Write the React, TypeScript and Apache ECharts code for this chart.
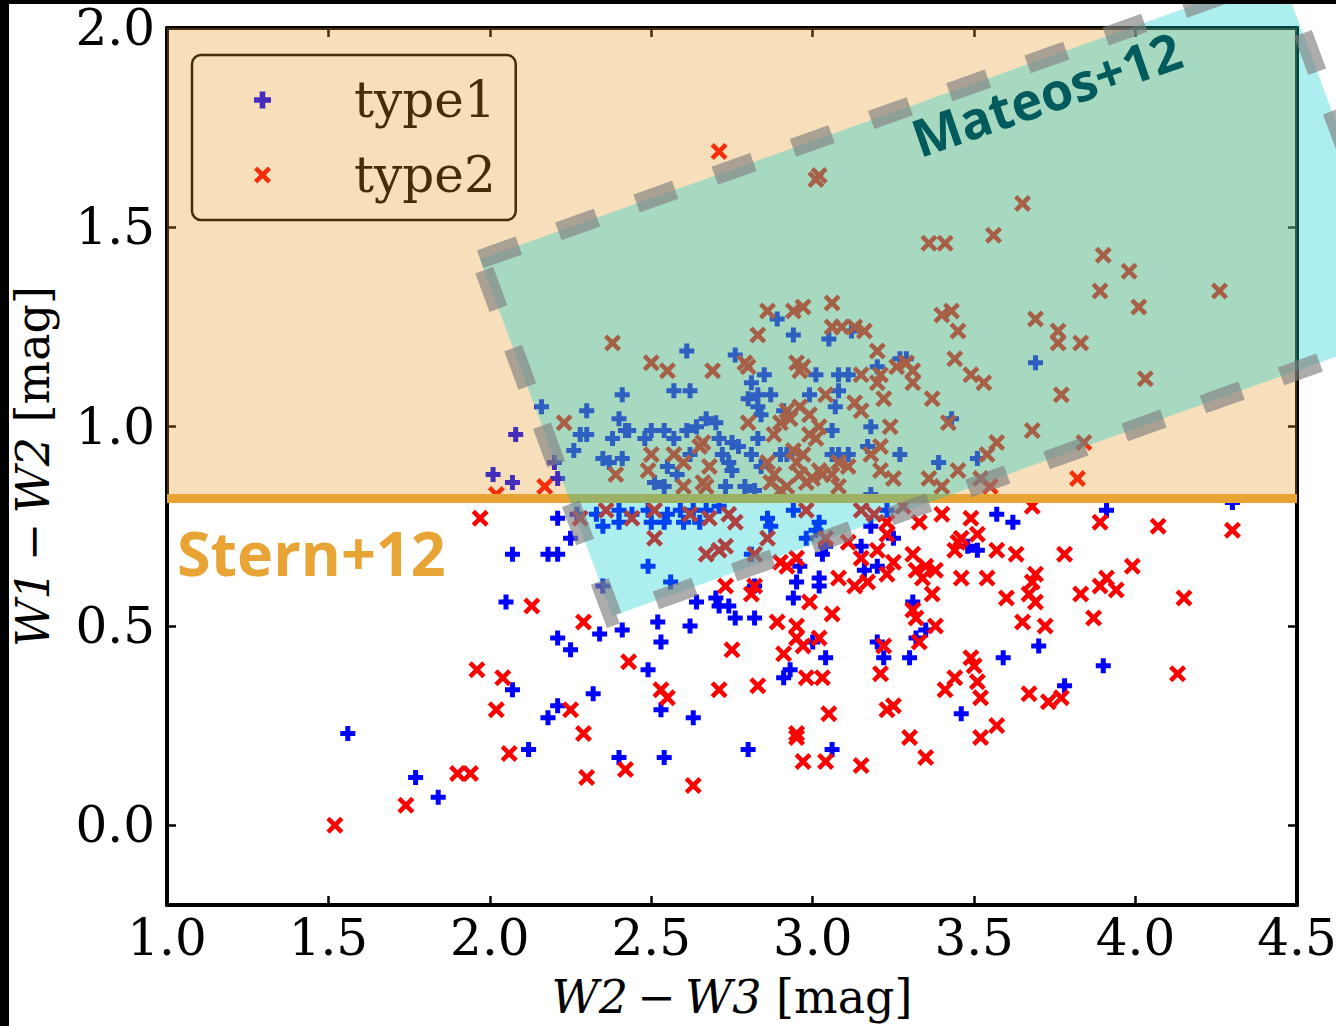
import React, { useEffect, useRef } from 'react';
import * as echarts from 'echarts';

const X_MIN = 1.0;
const X_MAX = 4.5;
const Y_MIN = -0.2;
const Y_MAX = 2.0;
const X_TICKS_INTERVAL = 0.5;
const Y_TICKS = [0, 0.5, 1.0, 1.5, 2.0];

const STERN_Y = 0.82;
// Mateos+12 wedge corners (data units): top-left, top-right, bottom-right, bottom-left
const MATEOS_CORNERS = [
  [1.97, 1.42],
  [4.45, 2.135],
  [4.86, 1.245],
  [2.38, 0.525],
];
const STERN_LABEL_POS = [1.031, 0.684];
const MATEOS_LABEL_POS = [3.723, 1.837];

const TYPE1 = [
  [3.69, 1.16], [3.51, 0.92], [3.57, 0.78], [3.62, 0.76], [3.91, 0.79], [4.30, 0.81], [3.51, 0.69], [3.70, 0.45], [3.59, 0.42], [3.90, 0.40], [3.78, 0.35], [3.46, 0.28],
  [2.49, 0.65], [2.56, 0.61], [2.64, 0.56], [2.70, 0.57], [2.71, 0.55], [2.74, 0.55], [2.76, 0.52], [2.82, 0.52], [2.82, 0.60], [2.52, 0.51], [2.62, 0.50], [2.53, 0.46], [2.49, 0.39], [2.53, 0.29], [2.63, 0.27], [2.81, 0.68], [2.94, 0.57], [2.95, 0.61], [3.02, 0.62], [3.02, 0.60], [2.96, 0.65], [3.01, 0.74], [2.98, 0.72], [3.04, 0.70], [3.03, 0.68], [3.15, 0.70], [3.18, 0.75], [3.20, 0.65], [3.16, 0.64], [3.25, 0.72], [3.31, 0.56], [3.35, 0.49], [3.32, 0.47], [3.00, 0.46], [3.04, 0.42], [3.20, 0.46], [3.22, 0.42], [3.30, 0.42], [2.93, 0.39], [2.91, 0.37], [3.48, 0.70],
  [2.54, 0.17], [2.80, 0.19], [3.06, 0.19],
  [1.56, 0.23], [1.77, 0.12], [1.84, 0.07], [2.12, 0.19], [2.07, 0.34], [2.21, 0.47], [2.25, 0.44], [2.34, 0.48], [2.41, 0.49], [2.32, 0.33], [2.21, 0.30], [2.18, 0.27], [2.40, 0.17],
  [2.16, 1.05], [2.30, 1.04], [2.41, 1.08], [2.08, 0.98], [2.01, 0.88], [2.07, 0.86], [2.20, 0.91], [2.21, 0.87], [2.26, 0.94], [2.28, 0.98], [2.30, 0.98], [2.40, 1.02], [2.42, 0.99], [2.43, 0.99], [2.38, 0.97], [2.35, 0.92], [2.37, 0.91], [2.41, 0.92], [2.21, 0.77], [2.27, 0.78], [2.25, 0.72], [2.07, 0.68], [2.18, 0.68], [2.21, 0.68], [2.35, 0.60], [2.05, 0.56], [2.33, 0.78], [2.35, 0.75], [2.40, 0.79], [2.44, 0.78], [2.49, 0.79], [2.40, 0.76],
  [2.94, 1.23], [3.05, 1.22], [2.61, 1.19], [2.76, 1.18], [2.57, 1.09], [2.62, 1.09], [2.85, 1.13], [2.81, 1.11], [2.83, 1.08], [2.87, 1.08], [2.80, 1.07], [3.01, 1.13], [3.08, 1.13], [3.11, 1.13], [2.99, 1.08], [3.08, 1.09], [3.20, 1.15], [3.27, 1.17], [3.29, 1.17], [3.07, 1.05], [2.83, 1.05], [2.84, 1.03], [2.91, 1.04], [3.18, 1.00], [3.06, 0.99], [2.67, 1.02], [2.70, 1.01], [2.64, 1.00], [2.61, 0.99], [2.50, 0.99], [2.54, 0.99], [2.57, 0.97], [2.48, 0.97], [2.71, 0.97], [2.75, 0.96], [2.77, 0.95], [2.83, 0.97], [2.90, 0.93], [2.92, 0.93], [2.72, 0.93], [2.74, 0.91], [2.81, 0.93], [2.62, 0.93], [2.55, 0.90], [2.58, 0.88], [2.51, 0.86], [2.54, 0.85], [2.75, 0.89], [2.84, 0.90], [3.11, 0.93], [3.08, 0.93], [3.06, 0.93], [3.17, 0.95], [3.27, 0.93], [3.39, 0.91], [3.43, 1.02], [2.79, 0.85], [2.82, 0.84], [2.73, 0.85], [3.18, 0.83],
  [2.55, 0.78], [2.59, 0.79], [2.63, 0.79], [2.67, 0.79], [2.71, 0.80], [2.50, 0.76], [2.54, 0.76], [2.60, 0.76], [2.65, 0.76], [2.86, 0.77], [2.87, 0.75], [2.94, 0.79], [3.02, 0.76], [3.23, 0.79],
  [2.89, 1.27], [3.12, 1.24],
];

const TYPE2 = [
  [2.71, 1.69], [3.01, 1.62], [3.02, 1.63], [3.65, 1.56], [3.36, 1.46], [3.41, 1.46], [3.56, 1.48], [3.90, 1.43], [3.98, 1.39], [4.26, 1.34], [3.89, 1.34], [4.01, 1.30], [3.69, 1.27], [3.76, 1.24], [3.76, 1.21], [3.83, 1.21], [3.49, 1.13], [3.53, 1.11], [3.77, 1.08], [4.03, 1.12], [3.68, 0.99], [3.57, 0.96], [3.54, 0.93], [3.84, 0.96], [3.52, 0.87], [3.55, 0.85], [3.82, 0.87], [3.68, 0.80], [3.89, 0.76], [4.07, 0.75], [4.30, 0.74],
  [2.86, 1.29], [2.94, 1.29], [2.97, 1.30], [3.06, 1.31], [3.06, 1.25], [3.09, 1.25], [3.13, 1.25], [3.16, 1.24], [3.40, 1.28], [3.43, 1.29], [3.45, 1.24], [2.83, 1.23], [2.38, 1.21],
  [2.50, 1.16], [2.55, 1.14], [2.69, 1.14], [2.79, 1.16], [2.80, 1.15], [2.95, 1.16], [2.97, 1.15], [2.96, 1.14], [3.20, 1.19], [3.15, 1.13], [3.26, 1.15], [3.29, 1.16], [3.31, 1.14], [3.20, 1.11], [3.21, 1.13], [3.31, 1.11], [3.44, 1.17], [3.37, 1.07], [3.42, 1.01], [3.04, 1.08], [3.13, 1.06], [3.15, 1.04], [3.22, 1.07], [3.24, 1.00], [2.92, 1.04], [2.96, 1.05], [2.99, 1.03], [2.90, 1.01], [2.93, 1.02], [2.88, 0.98], [2.80, 1.01], [3.02, 1.00], [2.99, 0.98], [3.01, 0.97], [2.94, 0.94], [2.97, 0.93], [2.66, 0.96], [2.65, 0.95], [2.57, 0.93], [2.50, 0.93], [2.49, 0.89], [2.68, 0.90], [2.60, 0.91], [2.86, 0.91], [2.88, 0.88], [2.95, 0.91], [2.96, 0.88], [3.02, 0.89], [3.06, 0.88], [3.08, 0.91], [3.11, 0.90], [3.18, 0.93], [3.21, 0.95], [3.21, 0.89], [3.25, 0.87], [3.36, 0.87], [3.45, 0.89], [3.40, 0.85], [2.98, 0.86], [3.00, 0.87], [3.03, 0.88], [2.92, 0.85], [2.90, 0.84], [2.87, 0.86], [3.08, 0.85], [2.66, 0.86], [2.67, 0.85], [2.60, 0.85],
  [2.51, 0.79], [2.62, 0.78], [2.68, 0.77], [2.74, 0.78], [2.76, 0.76], [2.98, 0.79], [3.15, 0.79], [3.19, 0.78], [3.28, 0.80], [3.23, 0.76], [3.33, 0.76], [3.40, 0.78], [3.49, 0.77],
  [2.23, 1.01], [2.39, 0.88], [2.17, 0.85], [2.02, 0.83], [1.97, 0.77], [2.28, 0.77], [2.36, 0.79], [2.44, 0.77], [2.13, 0.55], [2.29, 0.51],
  [2.51, 0.72], [2.67, 0.68], [2.71, 0.69], [2.73, 0.70], [2.86, 0.72], [2.82, 0.68], [2.81, 0.58], [2.82, 0.60], [2.73, 0.60], [2.90, 0.66], [2.92, 0.65], [2.95, 0.67], [3.04, 0.72], [3.11, 0.71], [3.15, 0.67], [3.20, 0.69], [3.23, 0.73], [3.31, 0.68], [3.23, 0.63], [3.25, 0.66], [3.08, 0.62], [3.13, 0.60], [3.17, 0.61], [3.32, 0.64], [3.35, 0.65], [3.38, 0.64], [3.34, 0.62], [3.37, 0.58], [3.45, 0.71], [3.44, 0.69], [3.46, 0.72], [3.46, 0.62], [2.99, 0.56], [3.06, 0.53], [2.89, 0.51], [2.95, 0.50], [2.95, 0.47], [2.97, 0.45], [3.02, 0.47], [2.91, 0.43], [2.75, 0.44], [3.31, 0.54], [3.32, 0.52], [3.38, 0.50], [3.33, 0.46], [3.22, 0.45], [3.21, 0.38], [2.98, 0.37], [3.03, 0.37], [2.83, 0.35], [2.71, 0.34], [2.53, 0.34], [2.55, 0.32], [3.05, 0.28], [3.23, 0.29], [3.25, 0.30], [3.49, 0.42], [3.50, 0.40], [3.44, 0.37], [3.41, 0.34], [3.51, 0.36],
  [3.51, 0.73], [3.57, 0.69], [3.63, 0.68], [3.78, 0.68], [3.99, 0.65], [3.54, 0.62], [3.69, 0.63], [3.68, 0.61], [3.67, 0.58], [3.69, 0.56], [3.60, 0.57], [3.83, 0.58], [3.89, 0.60], [3.91, 0.62], [3.94, 0.59], [4.15, 0.57], [3.87, 0.52], [3.65, 0.51], [3.72, 0.50], [3.52, 0.32], [3.67, 0.33], [3.73, 0.31], [3.77, 0.32], [4.13, 0.38],
  [2.63, 0.10], [2.95, 0.23], [2.95, 0.22], [2.97, 0.16], [3.04, 0.16], [3.15, 0.15], [3.30, 0.22], [3.35, 0.17], [3.57, 0.25], [3.52, 0.22],
  [1.52, 0.00], [1.74, 0.05], [1.90, 0.13], [1.94, 0.13], [2.06, 0.18], [1.96, 0.39], [2.04, 0.37], [2.02, 0.29], [2.43, 0.41], [2.25, 0.29], [2.29, 0.23], [2.42, 0.14], [2.30, 0.12],
];

const PLUS_PATH = 'path://M2,0H4V2H6V4H4V6H2V4H0V2H2Z';
const CROSS_PATH = 'path://M0,1.9L1.9,0L5,3.1L8.1,0L10,1.9L6.9,5L10,8.1L8.1,10L5,6.9L1.9,10L0,8.1L3.1,5Z';

const SERIF = '"DejaVu Serif", serif';
const SANS_BOLD = '"Open Sans", sans-serif';

function buildOption() {
  const axisLine = { show: true, onZero: false, lineStyle: { color: '#000', width: 4 } };
  const axisTick = { show: true, inside: true, length: 9, lineStyle: { color: '#000', width: 2.5 } };
  const fmt = (v: number) => v.toFixed(1);
  const nameStyle = {
    fontFamily: SERIF, fontSize: 46, color: '#000',
    rich: { i: { fontFamily: SERIF, fontStyle: 'italic', fontSize: 46, color: '#000' } },
  };
  return {
    animation: false,
    backgroundColor: '#fff',
    grid: { left: 167, top: 28, width: 1130, height: 877, containLabel: false, outerBoundsMode: 'none' },
    legend: {
      data: ['type1', 'type2'],
      orient: 'vertical',
      left: 192,
      top: 55,
      padding: [15, 20, 15, 62],
      itemGap: 15,
      itemWidth: 17,
      itemHeight: 17,
      borderColor: '#000',
      borderWidth: 2.5,
      borderRadius: 9,
      backgroundColor: 'transparent',
      z: 4,
      textStyle: { fontFamily: SERIF, fontSize: 50, color: '#000', lineHeight: 60, padding: [0, 0, 0, 78] },
    },
    graphic: [
      { type: 'rect', z: 100, silent: true, shape: { x: 0, y: 0, width: 1336, height: 4 }, style: { fill: '#000' } },
      { type: 'rect', z: 100, silent: true, shape: { x: 0, y: 0, width: 9, height: 1026 }, style: { fill: '#000' } },
    ],
    xAxis: [
      {
        type: 'value', min: X_MIN, max: X_MAX, interval: X_TICKS_INTERVAL, position: 'bottom',
        axisLine, axisTick, splitLine: { show: false },
        axisLabel: { formatter: fmt, fontFamily: SERIF, fontSize: 50, color: '#000', margin: 8, showMinLabel: true, showMaxLabel: true },
        name: '{i|W2}\u2009−\u2009{i|W3} [mag]',
        nameLocation: 'middle',
        nameGap: 69,
        nameTextStyle: nameStyle,
      },
      {
        type: 'value', min: X_MIN, max: X_MAX, interval: X_TICKS_INTERVAL, position: 'top',
        axisLine, axisTick, splitLine: { show: false }, axisLabel: { show: false },
      },
    ],
    yAxis: [
      {
        type: 'value', min: Y_MIN, max: Y_MAX, position: 'left',
        axisLine,
        axisTick: { ...axisTick, customValues: Y_TICKS },
        splitLine: { show: false },
        axisLabel: { customValues: Y_TICKS, formatter: fmt, fontFamily: SERIF, fontSize: 50, color: '#000', margin: 12 },
        name: '{i|W1}\u2009−\u2009{i|W2} [mag]',
        nameLocation: 'middle',
        nameRotate: 90,
        nameGap: 111,
        nameTextStyle: nameStyle,
      },
      {
        type: 'value', min: Y_MIN, max: Y_MAX, position: 'right',
        axisLine,
        axisTick: { ...axisTick, customValues: Y_TICKS },
        splitLine: { show: false },
        axisLabel: { show: false },
      },
    ],
    series: [
      {
        name: 'type1', type: 'scatter', data: TYPE1, symbol: PLUS_PATH, symbolSize: 15,
        itemStyle: { color: '#0000ff', opacity: 1 }, z: 2, silent: true,
      },
      {
        name: 'type2', type: 'scatter', data: TYPE2, symbol: CROSS_PATH, symbolSize: 17,
        itemStyle: { color: '#ff0000', opacity: 1 }, z: 2, silent: true,
      },
      {
        name: 'regions', type: 'custom', coordinateSystem: 'cartesian2d', clip: false, z: 6, silent: true,
        data: [[X_MIN, STERN_Y]],
        renderItem: (params: any, api: any) => {
          const tl = api.coord([X_MIN, Y_MAX]);
          const br = api.coord([X_MAX, STERN_Y]);
          const wedge = MATEOS_CORNERS.map((p) => api.coord(p));
          const sl = api.coord([X_MIN, STERN_Y]);
          const sr = api.coord([X_MAX, STERN_Y]);
          const st = api.coord(STERN_LABEL_POS);
          const mt = api.coord(MATEOS_LABEL_POS);
          return {
            type: 'group',
            children: [
              { type: 'rect', shape: { x: tl[0], y: tl[1], width: br[0] - tl[0], height: br[1] - tl[1] }, style: { fill: 'rgba(230,150,30,0.3)' } },
              { type: 'line', shape: { x1: sl[0], y1: sl[1], x2: sr[0], y2: sr[1] }, style: { stroke: '#e8a434', lineWidth: 9 } },
              { type: 'polygon', shape: { points: wedge }, style: { fill: 'rgba(0,205,205,0.32)' } },
              { type: 'polygon', shape: { points: wedge }, style: { fill: 'none', stroke: 'rgba(128,128,128,0.65)', lineWidth: 19, lineDash: [41, 42], lineCap: 'butt' } },
              {
                type: 'text', x: st[0], y: st[1],
                style: { text: 'Stern+12', fill: '#e8a434', fontFamily: SANS_BOLD, fontWeight: 'bold', fontSize: 61, align: 'left', verticalAlign: 'middle' },
              },
              {
                type: 'text', x: mt[0], y: mt[1], rotation: (19 * Math.PI) / 180,
                style: { text: 'Mateos+12', fill: '#015a5c', fontFamily: SANS_BOLD, fontWeight: 'bold', fontSize: 52, align: 'center', verticalAlign: 'middle' },
              },
            ],
          };
        },
      },
    ],
  };
}

export default function App() {
  const ref = useRef<HTMLDivElement>(null);
  useEffect(() => {
    if (!ref.current) return;
    const chart = echarts.init(ref.current, null, { renderer: 'svg' });
    chart.setOption(buildOption() as any);
    return () => chart.dispose();
  }, []);
  return (
    <div style={{ position: 'fixed', left: 0, top: 0, width: 1336, height: 1026, background: '#fff', overflow: 'hidden' }}>
      <div ref={ref} style={{ position: 'absolute', left: 0, top: 0, width: 1336, height: 1026 }} />
    </div>
  );
}
